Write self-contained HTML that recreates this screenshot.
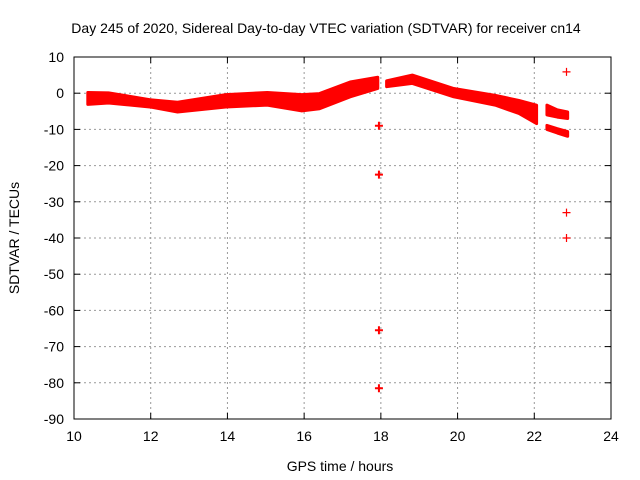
<!DOCTYPE html>
<html><head><meta charset="utf-8"><style>
body{margin:0;background:#fff}
svg{display:block;font-family:"Liberation Sans",sans-serif}
</style></head><body>
<svg id="chart" width="640" height="480" viewBox="0 0 640 480">
<text x="326" y="33" font-size="14" text-anchor="middle">Day 245 of 2020, Sidereal Day-to-day VTEC variation (SDTVAR) for receiver cn14</text>
<text x="340" y="471" font-size="14" text-anchor="middle">GPS time / hours</text>
<text x="19" y="238" font-size="14" text-anchor="middle" transform="rotate(-90 19 238)">SDTVAR / TECUs</text>
<g id="grid"></g><g id="marks"></g><g id="axes"></g>
</svg>
<script>
const xTicks=[10,12,14,16,18,20,22,24];
const yTicks=[10,0,-10,-20,-30,-40,-50,-60,-70,-80,-90];
// band segments: time, upper, lower
const seg1T=[10.36,10.9,11.98,12.7,13.96,15.04,15.94,16.4,17.2,17.92];
const seg1Up=[0.2,0.1,-1.8,-2.5,-0.4,0.2,-0.4,-0.1,3.1,4.4];
const seg1Lo=[-3.1,-2.7,-3.8,-5.2,-3.8,-3.3,-4.9,-4.3,-1.0,1.3];
const seg2T=[18.15,18.82,19.9,20.98,21.6,22.06];
const seg2Up=[3.4,5.0,1.3,-0.6,-2.0,-3.3];
const seg2Lo=[1.8,2.7,-1.0,-3.3,-5.6,-8.4];
const seg3T=[22.33,22.6,22.87];
const seg3Up=[-3.3,-4.6,-5.2];
const seg3Lo=[-6.0,-6.6,-7.0];
const seg4T=[22.33,22.6,22.87];
const seg4Up=[-8.9,-9.8,-10.6];
const seg4Lo=[-10.0,-11.0,-11.9];
const outT=[17.95,17.95,17.95,17.95,22.84,22.84,22.84];
const outV=[-9,-22.5,-65.5,-81.5,5.9,-33,-40];
const X0=74,X1=611,Y0=57,Y1=419;
const sx=t=>X0+(t-10)/14*(X1-X0);
const sy=v=>Y0+(10-v)/100*(Y1-Y0);
const NS='http://www.w3.org/2000/svg';
const grid=document.getElementById('grid'),marks=document.getElementById('marks'),axes=document.getElementById('axes');
function mk(tag,at,parent){const e=document.createElementNS(NS,tag);for(const k in at)e.setAttribute(k,at[k]);parent.appendChild(e);return e;}
xTicks.forEach(t=>{const x=sx(t);
 if(t>10&&t<24){const g=mk('line',{x1:x,x2:x,y1:Y0,y2:Y1,stroke:'#999','stroke-dasharray':'2,3'},grid);
 
 }
 mk('line',{x1:x,x2:x,y1:Y1,y2:Y1-6,stroke:'#000'},axes);
 mk('line',{x1:x,x2:x,y1:Y0,y2:Y0+6,stroke:'#000'},axes);
 const l=mk('text',{x:x,y:Y1+22,'font-size':14,'text-anchor':'middle'},axes);l.textContent=t;
 
 
});
yTicks.forEach(v=>{const y=sy(v);
 if(v<10&&v>-90){const g=mk('line',{x1:X0,x2:X1,y1:y,y2:y,stroke:'#999','stroke-dasharray':'2,3'},grid);
 
 }
 mk('line',{x1:X0,x2:X0+6,y1:y,y2:y,stroke:'#000'},axes);
 mk('line',{x1:X1,x2:X1-6,y1:y,y2:y,stroke:'#000'},axes);
 const l=mk('text',{x:X0-10,y:y+5,'font-size':14,'text-anchor':'end'},axes);l.textContent=v;
 
 
});
const fr=mk('rect',{x:X0,y:Y0,width:X1-X0,height:Y1-Y0,fill:'none',stroke:'#000'},axes);


function band(T,U,L,name){
 let p=T.map((t,i)=>sx(t)+','+sy(U[i]));
 for(let i=T.length-1;i>=0;i--)p.push(sx(T[i])+','+sy(L[i]));
 const e=mk('polygon',{points:p.join(' '),fill:'#f00',stroke:'#f00','stroke-width':3,'stroke-linejoin':'round'},marks);
 
 
}
band(seg1T,seg1Up,seg1Lo,'sdtvar-band-1');
band(seg2T,seg2Up,seg2Lo,'sdtvar-band-2');
band(seg3T,seg3Up,seg3Lo,'sdtvar-band-3');
band(seg4T,seg4Up,seg4Lo,'sdtvar-band-4');
outT.forEach((t,i)=>{const x=sx(t),y=sy(outV[i]);
 const w=(t<20)?2:1.2;
 const e=mk('path',{d:`M${x-4},${y}H${x+4}M${x},${y-4}V${y+4}`,stroke:'#f00','stroke-width':w},marks);
 
 
});
</script>
</body></html>
